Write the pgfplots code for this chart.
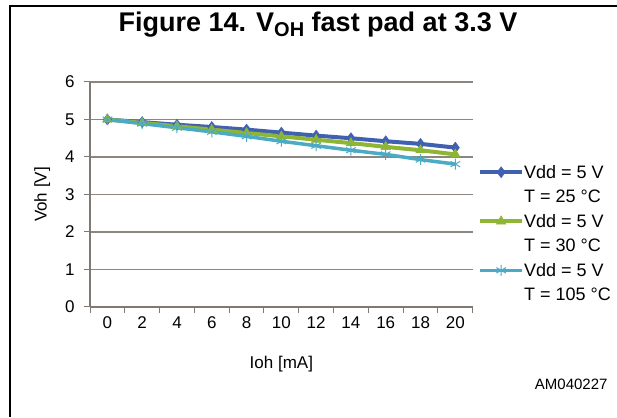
\documentclass[border=0pt]{standalone}
\usepackage{pgfplots}
\pgfplotsset{compat=1.18}
\usepackage{fontspec}
\setmainfont{Liberation Sans}
\definecolor{cblue}{RGB}{64,96,176}
\definecolor{cgreen}{RGB}{142,182,52}
\definecolor{ccyan}{RGB}{75,170,196}
\definecolor{axgray}{RGB}{128,120,114}
\definecolor{gridgray}{RGB}{140,134,128}
\begin{document}
\begin{tikzpicture}[x=1pt,y=1pt]
\useasboundingbox (0,0) rectangle (617,417);
\draw[line width=2.5pt] (10,0) -- (10,411) -- (617,411);
\node[anchor=base, font=\fontsize{27}{27}\selectfont\bfseries] at (318,385.5) {Figure 14. V\raisebox{-5pt}{\fontsize{20}{20}\selectfont OH} fast pad at 3.3 V};
\node[anchor=east, font=\fontsize{15}{15}\selectfont] at (611,33) {AM040227};
\begin{axis}[at={(90pt,110pt)}, anchor=south west, scale only axis,
  width=382.7pt, height=225pt,
  xmin=-1, xmax=21, ymin=0, ymax=6,
  axis x line=bottom, axis y line=left,
  axis line style={-, draw=axgray, line width=1.3pt},
  xtick={-1,1,...,21}, xticklabels={},
  extra x ticks={0,2,...,20},
  extra x tick labels={0,2,4,6,8,10,12,14,16,18,20},
  extra x tick style={major tick length=0pt},
  ytick={0,1,...,6},
  tick align=outside, major tick length=6pt,
  tick style={draw=axgray, line width=1pt},
  ymajorgrids, grid style={draw=gridgray, line width=1.2pt},
  ticklabel style={font=\fontsize{17}{17}\selectfont},
  /pgf/number format/assume math mode=true,
  xticklabel style={yshift=-6pt},
  yticklabel style={xshift=-6pt},
  xlabel={Ioh [mA]}, ylabel={Voh [V]},
  label style={font=\fontsize{17}{17}\selectfont},
  xlabel style={at={(axis description cs:0.5,-0.253)}, anchor=center},
  ylabel style={at={(axis description cs:-0.125,0.5)}, anchor=center, rotate=0},
  clip=false,
  legend style={at={(1.019,0.641)}, anchor=north west, draw=none, fill=none,
    inner sep=0pt, font=\fontsize{18}{24}\selectfont,
    cells={align=left, anchor=west, inner sep=1pt}, row sep=6.5pt},
  legend cell align=left,
  legend image code/.code={\path[draw=none,fill=none] (0pt,0pt) -- (42pt,0pt);
    \draw[overlay,mark repeat=2,mark phase=2,#1,yshift=12pt] plot coordinates {(0pt,0pt) (21pt,0pt) (42pt,0pt)};},
]
\addplot[cblue, line width=4pt, mark=diamond*, mark size=5.5pt, mark options={line width=0.5pt}] coordinates {
(0,5.00) (2,4.93) (4,4.86) (6,4.80) (8,4.73) (10,4.65) (12,4.57) (14,4.50) (16,4.42) (18,4.35) (20,4.25)};
\addlegendentry{Vdd = 5 V\\T = 25 °C}
\addplot[cgreen, line width=4pt, mark=triangle*, mark size=5.5pt, mark options={line width=0.5pt}] coordinates {
(0,5.00) (2,4.91) (4,4.82) (6,4.73) (8,4.64) (10,4.55) (12,4.46) (14,4.37) (16,4.27) (18,4.18) (20,4.07)};
\addlegendentry{Vdd = 5 V\\T = 30 °C}
\addplot[ccyan, line width=3.5pt, mark=asterisk, mark size=5.5pt, mark options={line width=1pt}] coordinates {
(0,5.00) (2,4.89) (4,4.78) (6,4.67) (8,4.55) (10,4.42) (12,4.30) (14,4.18) (16,4.07) (18,3.93) (20,3.81)};
\addlegendentry{Vdd = 5 V\\T = 105 °C}
\end{axis}
\end{tikzpicture}
\end{document}
